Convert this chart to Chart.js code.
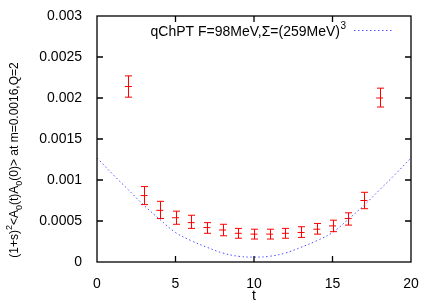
<!DOCTYPE html>
<html>
<head>
<meta charset="utf-8">
<script src="https://cdn.jsdelivr.net/npm/chart.js@4.4.1/dist/chart.umd.min.js"></script>
<style>
html, body { margin: 0; padding: 0; background: #fff; }
</style>
</head>
<body>
<canvas id="chart" width="436" height="305"></canvas>
<script>
// measured correlator, t = 2..18
const tValues = [2, 3, 4, 5, 6, 7, 8, 9, 10, 11, 12, 13, 14, 15, 16, 17, 18];
const means = [0.00214, 0.00081, 0.00063, 0.00054, 0.00048, 0.00042, 0.00039, 0.00035, 0.00034,
	0.00034, 0.00035, 0.00036, 0.00040, 0.00044, 0.00053, 0.00075, 0.00200];
const upper = [0.00227, 0.00092, 0.00074, 0.00062, 0.00057, 0.00048, 0.00046, 0.00041, 0.00040,
	0.00040, 0.00041, 0.00043, 0.00047, 0.00051, 0.00060, 0.00085, 0.00212];
const lower = [0.00201, 0.00070, 0.00053, 0.00046, 0.00041, 0.00035, 0.00032, 0.00029, 0.00028,
	0.00028, 0.00029, 0.00030, 0.00034, 0.00037, 0.00045, 0.00065, 0.00189];

// qChPT prediction at integer t
const curveT = [0, 1, 2, 3, 4, 5, 6, 7, 8, 9, 10, 11, 12, 13, 14, 15, 16, 17, 18, 19, 20];
const curveValues = [0.00127, 0.00107, 0.00088, 0.00069, 0.00052, 0.00036, 0.00026, 0.00018, 0.00011,
	0.00007, 0.00006, 0.00007, 0.00011, 0.00018, 0.00026, 0.00036, 0.00052, 0.00069, 0.00088,
	0.00107, 0.00127];

const xTicks = [0, 5, 10, 15, 20];
const yTicks = [0, 0.0005, 0.001, 0.0015, 0.002, 0.0025, 0.003];
const yTickLabels = ["0", "0.0005", "0.001", "0.0015", "0.002", "0.0025", "0.003"];

const FONT = "'Liberation Sans', Arial, Helvetica, sans-serif";
const RED = "rgb(255,0,0)";
const BLUE = "rgb(80,80,255)";

// frame, inward ticks, error bars, legend and y title
const gnuplotLook = {
	id: "gnuplotLook",
	afterDatasetsDraw(chart) {
		const ctx = chart.ctx;
		const x = chart.scales.x;
		const y = chart.scales.y;
		ctx.save();
		ctx.strokeStyle = RED;
		ctx.lineWidth = 1;
		for (let i = 0; i < tValues.length; i++) {
			const px = Math.round(x.getPixelForValue(tValues[i])) + 0.5;
			const yt = y.getPixelForValue(upper[i]);
			const yb = y.getPixelForValue(lower[i]);
			ctx.beginPath();
			ctx.moveTo(px, yt);
			ctx.lineTo(px, yb);
			ctx.moveTo(px - 3.5, yt);
			ctx.lineTo(px + 3.5, yt);
			ctx.moveTo(px - 3.5, yb);
			ctx.lineTo(px + 3.5, yb);
			ctx.stroke();
		}
		ctx.restore();
	},
	afterDraw(chart) {
		const ctx = chart.ctx;
		const a = chart.chartArea;
		const x = chart.scales.x;
		const y = chart.scales.y;
		ctx.save();
		ctx.strokeStyle = "#000";
		ctx.lineWidth = 1.3;
		ctx.strokeRect(a.left, a.top, a.right - a.left, a.bottom - a.top);
		ctx.beginPath();
		xTicks.slice(1, -1).forEach((v) => {
			const px = x.getPixelForValue(v);
			ctx.moveTo(px, a.bottom);
			ctx.lineTo(px, a.bottom - 6);
			ctx.moveTo(px, a.top);
			ctx.lineTo(px, a.top + 6);
		});
		yTicks.slice(1, -1).forEach((v) => {
			const py = y.getPixelForValue(v);
			ctx.moveTo(a.left, py);
			ctx.lineTo(a.left + 6, py);
			ctx.moveTo(a.right, py);
			ctx.lineTo(a.right - 6, py);
		});
		ctx.stroke();

		// legend
		ctx.fillStyle = "#000";
		ctx.font = "14px " + FONT;
		ctx.textBaseline = "middle";
		ctx.textAlign = "right";
		ctx.fillText("qChPT F=98MeV,Σ=(259MeV)", 340, 32);
		ctx.textAlign = "left";
		ctx.font = "10px " + FONT;
		ctx.fillText("3", 340.5, 26);
		ctx.strokeStyle = BLUE;
		ctx.lineWidth = 1;
		ctx.setLineDash([1.5, 2.5]);
		ctx.beginPath();
		ctx.moveTo(354, 30.5);
		ctx.lineTo(392, 30.5);
		ctx.stroke();
		ctx.setLineDash([]);

		// y title with sub/superscripts
		const parts = [
			["(1+s)", 0], ["2", -1], ["<A", 0], ["0", 1], ["(t)A", 0], ["0", 1],
			["(0)> at m=0.0016,Q=2", 0],
		];
		const fontFor = (k) => (k === 0 ? "12px " : "9px ") + FONT;
		let total = 0;
		parts.forEach(([s, k]) => {
			ctx.font = fontFor(k);
			total += ctx.measureText(s).width;
		});
		ctx.translate(15, 160);
		ctx.rotate(-Math.PI / 2);
		ctx.textAlign = "left";
		let cx = -total / 2;
		parts.forEach(([s, k]) => {
			ctx.font = fontFor(k);
			ctx.fillText(s, cx, k * 5);
			cx += ctx.measureText(s).width;
		});
		ctx.restore();
	},
};

new Chart(document.getElementById("chart"), {
	type: "scatter",
	data: {
		datasets: [
			{
				label: "qChPT F=98MeV,Σ=(259MeV)³",
				type: "line",
				data: curveT.map((t, i) => ({ x: t, y: curveValues[i] })),
				borderColor: BLUE,
				borderWidth: 1,
				borderDash: [1.5, 2.5],
				pointRadius: 0,
				tension: 0.4,
				fill: false,
			},
			{
				label: "data",
				data: tValues.map((t, i) => ({ x: t, y: means[i] })),
				pointStyle: "line",
				radius: 3.5,
				borderColor: RED,
				borderWidth: 1,
				backgroundColor: RED,
			},
		],
	},
	options: {
		responsive: false,
		animation: false,
		devicePixelRatio: 1,
		layout: { padding: { top: 16, right: 25, left: 0, bottom: 0 } },
		plugins: {
			legend: { display: false },
			tooltip: { enabled: false },
		},
		scales: {
			x: {
				type: "linear",
				min: 0,
				max: 20,
				afterFit: (s) => { s.height = 43; },
				afterBuildTicks: (s) => { s.ticks = xTicks.map((v) => ({ value: v })); },
				grid: { display: false },
				border: { display: false },
				ticks: { color: "#000", font: { size: 14, family: FONT }, padding: 6, maxRotation: 0 },
				title: { display: true, text: "t", color: "#000", font: { size: 14, family: FONT }, padding: 0 },
			},
			y: {
				min: 0,
				max: 0.003,
				afterFit: (s) => { s.width = 97; },
				afterBuildTicks: (s) => { s.ticks = yTicks.map((v) => ({ value: v })); },
				grid: { display: false },
				border: { display: false },
				ticks: {
					color: "#000",
					font: { size: 14, family: FONT },
					padding: 7,
					callback: (v, i) => yTickLabels[i],
				},
			},
		},
	},
	plugins: [gnuplotLook],
});
</script>
</body>
</html>
